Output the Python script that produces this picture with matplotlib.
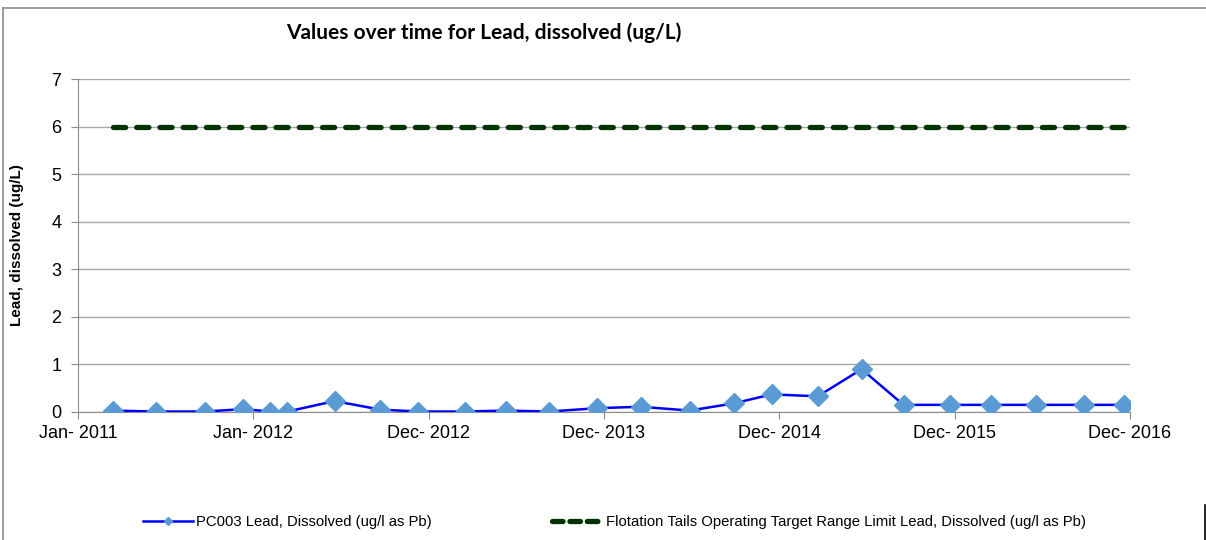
import pandas as pd
import matplotlib
matplotlib.use("Agg")
import matplotlib.pyplot as plt
import matplotlib.dates as mdates
from matplotlib.lines import Line2D

# sample dates and values
sample_dates = [
    "2011-03-18", "2011-06-16", "2011-09-23", "2011-12-11", "2012-02-05",
    "2012-03-11", "2012-06-16", "2012-09-18", "2012-12-05", "2013-03-10",
    "2013-06-02", "2013-08-31", "2013-12-06", "2014-03-06", "2014-06-15",
    "2014-09-13", "2014-11-30", "2015-03-05", "2015-06-03", "2015-08-28",
    "2015-12-01", "2016-02-23", "2016-05-27", "2016-09-01", "2016-11-22",
]
lead_values = [
    0.03, 0.01, 0.01, 0.06, 0.01,
    0.01, 0.23, 0.05, 0.01, 0.01,
    0.03, 0.01, 0.08, 0.11, 0.03,
    0.18, 0.37, 0.33, 0.90, 0.15,
    0.15, 0.15, 0.15, 0.15, 0.15,
]
limit_value = 6.0

tick_labels = ["Jan- 2011", "Jan- 2012", "Dec- 2012", "Dec- 2013",
               "Dec- 2014", "Dec- 2015", "Dec- 2016"]
axis_start = "2011-01-06"
tick_step_days = 360

series_label = "PC003 Lead, Dissolved (ug/l as Pb)"
limit_label = "Flotation Tails Operating Target Range Limit Lead, Dissolved (ug/l as Pb)"
title = "Values over time for Lead, dissolved (ug/L)"
ylabel = "Lead, dissolved (ug/L)"

dates = pd.to_datetime(sample_dates)
start = pd.Timestamp(axis_start)
ticks = [start + pd.Timedelta(days=tick_step_days * i) for i in range(len(tick_labels))]

W, H = 1206, 540
fig = plt.figure(figsize=(W / 100, H / 100), dpi=100)
# plot area in pixels: x 78..1130, y 80 (top, 7) .. 411 (0)
ax = fig.add_axes([78 / W, 1 - 412 / H, (1130 - 78) / W, (412 - 79) / H])

sans = ["Liberation Sans", "DejaVu Sans"]

ax.plot(dates, lead_values, color="#0000ff", lw=1.8, marker="D", ms=10,
        mfc="#5b9bd5", mec="#5b9bd5", zorder=3)
ax.plot([dates[0], dates[-1]], [limit_value, limit_value], color="#003300",
        lw=3.8, dashes=(2.3, 2.1), dash_capstyle="round", zorder=2)

ax.set_xlim(mdates.date2num(ticks[0]), mdates.date2num(ticks[-1]))
ax.set_ylim(0, 7)
ax.set_yticks(range(0, 8))
ax.set_xticks([mdates.date2num(t) for t in ticks])
ax.set_xticklabels(tick_labels, fontfamily=sans, fontsize=13)
for lab in ax.get_yticklabels():
    lab.set_fontfamily(sans)
    lab.set_fontsize(13)
ax.grid(axis="y", color="#a6a6a6", lw=1)
ax.set_axisbelow(True)
for side in ["top", "right"]:
    ax.spines[side].set_visible(False)
for side in ["left", "bottom"]:
    ax.spines[side].set_color("#8c8c8c")
ax.tick_params(axis="both", colors="#8c8c8c", length=5, labelcolor="black")
ax.tick_params(axis="y", pad=7)
ax.tick_params(axis="x", pad=4)

fig.text(484 / W, 1 - 33 / H, title, ha="center", va="center",
         fontfamily=["Lato", "DejaVu Sans"], fontweight="bold", fontsize=15)
fig.text(17 / W, 1 - 245 / H, ylabel, ha="center", va="center", rotation=90,
         fontfamily=sans, fontweight="bold", fontsize=11)

# legend
handles = [
    Line2D([], [], color="#0000ff", lw=1.8, marker="D", ms=4,
           mfc="#5b9bd5", mec="#5b9bd5"),
    Line2D([], [], color="#003300", lw=3.8, dashes=(2.0, 1.3),
           dash_capstyle="round"),
]
fig.legend(handles, [series_label, limit_label], loc="center",
           bbox_to_anchor=(614 / W, 1 - 522 / H), ncol=2, frameon=False,
           prop={"family": sans, "size": 10.7},
           handlelength=3.4, columnspacing=8.1, handletextpad=0.2)

# chart area border
fig.add_artist(Line2D([3 / W, 1], [1 - 8 / H, 1 - 8 / H], color="#8c8c8c", lw=1.2))
fig.add_artist(Line2D([3 / W, 3 / W], [0, 1 - 8 / H], color="#8c8c8c", lw=1.2))
fig.add_artist(Line2D([1205 / W, 1205 / W], [0, 1 - 505 / H], color="black", lw=1.2))

fig.savefig("out.png", dpi=100)
